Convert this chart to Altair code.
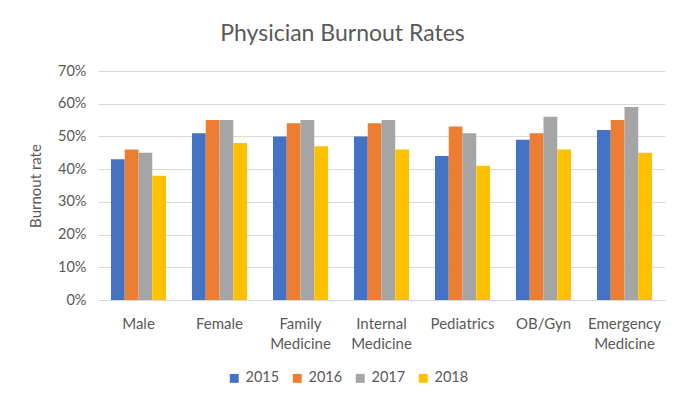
import altair as alt
import pandas as pd

categories = ["Male", "Female", "Family Medicine", "Internal Medicine", "Pediatrics", "OB/Gyn", "Emergency Medicine"]
years = ["2015", "2016", "2017", "2018"]
v2015 = [0.43, 0.51, 0.50, 0.50, 0.44, 0.49, 0.52]
v2016 = [0.46, 0.55, 0.54, 0.54, 0.53, 0.51, 0.55]
v2017 = [0.45, 0.55, 0.55, 0.55, 0.51, 0.56, 0.59]
v2018 = [0.38, 0.48, 0.47, 0.46, 0.41, 0.46, 0.45]
colors = ["#4472C4", "#ED7D31", "#A5A5A5", "#FFC000"]

rows = []
for y, vals in zip(years, [v2015, v2016, v2017, v2018]):
    for c, v in zip(categories, vals):
        rows.append({"category": c, "year": y, "rate": v})
df = pd.DataFrame(rows)

FONT = "Lato"
GRAY = "#595959"

chart = alt.Chart(df).mark_bar().encode(
    x=alt.X("category:N", sort=categories,
            scale=alt.Scale(paddingInner=0.32, paddingOuter=0.16),
            axis=alt.Axis(title=None, labelAngle=0, ticks=False, domain=True, grid=False,
                          domainColor="#D9D9D9", labelColor=GRAY, labelFont=FONT,
                          labelFontSize=15, labelPadding=16, labelLineHeight=20,
                          labelExpr="split(datum.label, ' ')")),
    xOffset=alt.XOffset("year:N", sort=years),
    y=alt.Y("rate:Q", scale=alt.Scale(domain=[0, 0.7]),
            axis=alt.Axis(title="Burnout rate", format=".0%", values=[0, .1, .2, .3, .4, .5, .6, .7],
                          ticks=False, domain=False, gridColor="#D9D9D9",
                          labelColor=GRAY, labelFont=FONT, labelFontSize=14.5, labelPadding=12,
                          titleColor=GRAY, titleFont=FONT, titleFontSize=15,
                          titleFontWeight="normal", titlePadding=14)),
    color=alt.Color("year:N", sort=years, scale=alt.Scale(domain=years, range=colors),
                    legend=alt.Legend(title=None, orient="none", direction="horizontal",
                                      legendX=129, legendY=300, symbolType="square",
                                      symbolSize=80, labelFont=FONT, labelFontSize=14.5,
                                      labelColor=GRAY, columnPadding=10, symbolStrokeWidth=0)),
).properties(
    width=567, height=229,
    background="white",
    title=alt.TitleParams("Physician Burnout Rates", font=FONT, fontSize=23,
                          fontWeight="normal", color=GRAY, anchor="middle", dx=-39, offset=17),
    autosize=alt.AutoSizeParams(type="none"),
    padding={"left": 90, "top": 63, "right": 12, "bottom": 101},
).configure_view(stroke=None, strokeWidth=0)

chart.save("out.html", embed_options={"renderer": "svg", "actions": False})
